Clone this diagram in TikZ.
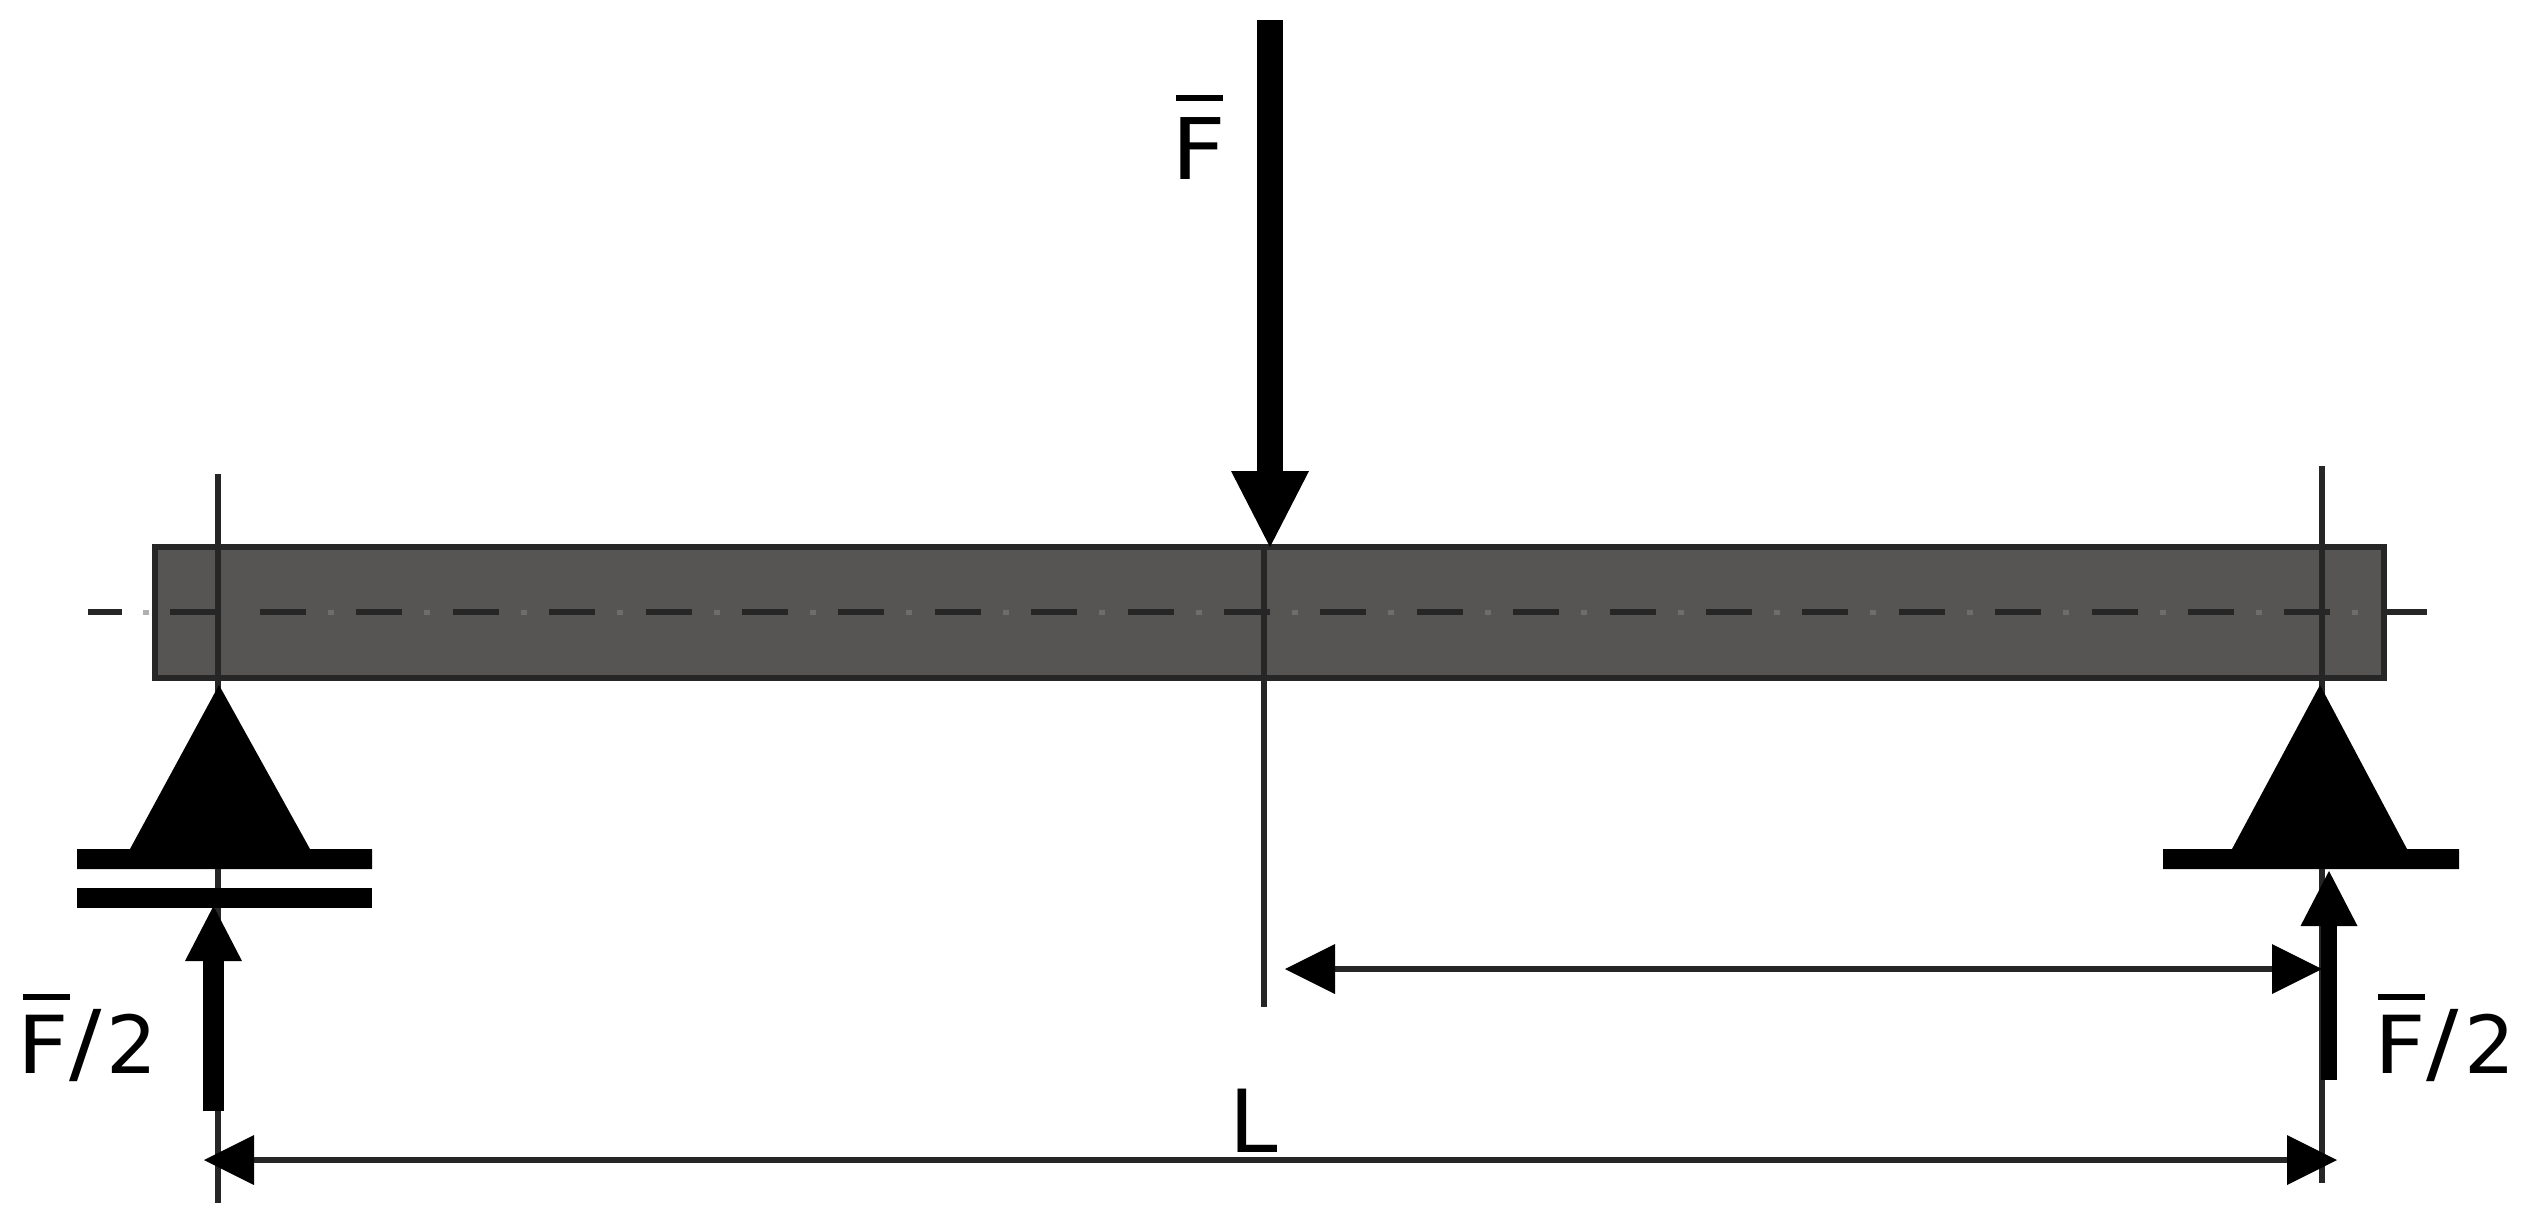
\documentclass[tikz,border=0pt]{standalone}
\usepackage{fontspec}
\setmainfont{DejaVu Sans}
\usetikzlibrary{arrows.meta}
\definecolor{beamgrey}{HTML}{575553}
\definecolor{dotgrey}{HTML}{6F6D6B}
\definecolor{dotlight}{HTML}{B0B0B0}
\newcommand{\barredF}[2]{\leavevmode\rlap{\kern#1\raisebox{#2}{\rule{47pt}{6pt}}}\scalebox{1.12}[1]{F}}
\newcommand{\wideslash}{\scalebox{1.2}[1.1]{/}}
\tikzset{
  beamstyle/.style={draw=black!85,fill=beamgrey,line width=6pt},
  axisline/.style={line width=6pt,draw=black!85},
  centresolid/.style={line width=6pt,draw=black!85},
  centredash/.style={line width=6pt,draw=black!85,dash pattern=on 46pt off 50.4pt},
  centredot/.style={line width=5pt,draw=dotgrey,dash pattern=on 6pt off 90.4pt},
  solidpart/.style={fill=black,draw=none},
  dimline/.style={line width=6pt,draw=black!85,{Triangle[length=50pt,width=50pt,line width=0pt,color=black,fill=black]}-{Triangle[length=50pt,width=50pt,line width=0pt,color=black,fill=black]}},
  forcebig/.style={line width=26pt,draw=black,-{Triangle[length=76pt,width=78pt,line width=0pt]}},
  forcesmall/.style={line width=#1,draw=black,-{Triangle[length=55pt,width=57pt,line width=0pt]}},
  lab/.style={inner sep=0pt,anchor=base west,font=\fontsize{#1}{#1}\selectfont,text=black},
}
\begin{document}
\begin{tikzpicture}[x=1pt,y=-1pt]
\useasboundingbox[fill=white] (0,0) rectangle (2528,1227);
% beam
\draw[beamstyle] (155,547) rectangle (2384,678);
% centre line
\coordinate (c0) at (88,612);   \coordinate (c1) at (122,612);
\coordinate (d0) at (143,612);  \coordinate (d1) at (149,612);
\coordinate (c2) at (170,612);  \coordinate (c3) at (217,612);
\coordinate (cs) at (260,612);  \coordinate (ce) at (2428,612);
\coordinate (ds) at (328,612);
\draw[centresolid] (c0) -- (c1);
\draw[line width=5pt,draw=dotlight] (d0) -- (d1);
\draw[centresolid] (c2) -- (c3);
\draw[centredot] (ds) -- (ce);
\draw[centredash] (cs) -- (ce);
% vertical axes
\coordinate (atop) at (218,474);   \coordinate (abot) at (218,1203);
\coordinate (btop) at (2322,466);  \coordinate (bbot) at (2322,1183);
\coordinate (ctop) at (1264,545);  \coordinate (cbot) at (1264,1007);
\draw[axisline] (atop) -- (abot);
\draw[axisline] (btop) -- (bbot);
\draw[axisline] (ctop) -- (cbot);
% left support
\fill[solidpart] (219,685) -- (310,849) -- (372,849) -- (372,869) -- (77,869) -- (77,849) -- (130,849) -- cycle;
\fill[solidpart] (77,888) rectangle (372,908);
% right support
\fill[solidpart] (2320,685) -- (2407,849) -- (2459,849) -- (2459,869) -- (2163,869) -- (2163,849) -- (2232,849) -- cycle;
% forces
\coordinate (fa) at (1270,20);     \coordinate (fb) at (1270,547);
\coordinate (la) at (213.5,1111);  \coordinate (lb) at (213.5,906);
\coordinate (ra) at (2329,1080);   \coordinate (rb) at (2329,871);
\draw[forcebig] (fa) -- (fb);
\draw[forcesmall=21pt] (la) -- (lb);
\draw[forcesmall=16pt] (ra) -- (rb);
% dimensions
\coordinate (ma) at (1285,969);    \coordinate (mb) at (2322,969);
\coordinate (da) at (204,1160);    \coordinate (db) at (2337,1160);
\draw[dimline] (ma) -- (mb);
\draw[dimline] (da) -- (db);
% labels
\node[lab=85pt] (ftop) at (1171,179) {\barredF{5pt}{78pt}};
\node[lab=80pt] (fleft) at (17,1073) {\barredF{6pt}{73pt}\kern1pt\wideslash\kern4pt 2};
\node[lab=80pt] (fright) at (2374,1073) {\barredF{4pt}{73pt}\kern1pt\wideslash\kern5pt 2};
\node[lab=87pt] (length) at (1229.5,1152) {L};
\end{tikzpicture}
\end{document}
